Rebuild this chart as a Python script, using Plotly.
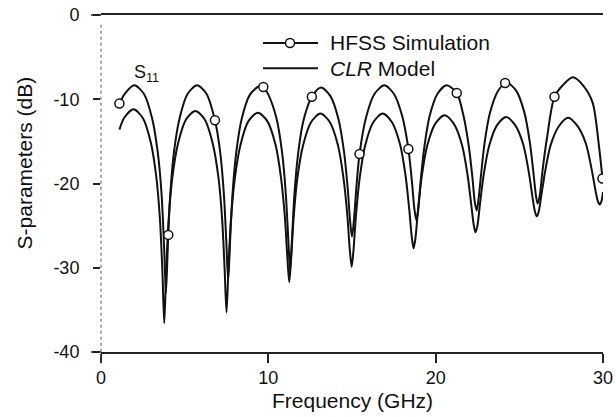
import plotly.graph_objects as go

# HFSS simulation, S11 in dB versus frequency in GHz
hfss_freq = [1.1, 1.42, 1.99, 2.56, 3.05, 3.39, 3.62, 3.77, 3.88,
             3.97, 4.02, 4.14, 4.36, 4.70, 5.18, 5.74, 6.30, 6.81, 7.12, 7.34, 7.49, 7.60,
             7.71, 7.86, 8.08, 8.41, 8.90, 9.45, 9.70, 10.00, 10.49, 10.82, 11.04, 11.19, 11.30,
             11.41, 11.56, 11.78, 12.11, 12.60, 13.15, 13.70, 14.19, 14.52, 14.74, 14.89, 15.00,
             15.12, 15.27, 15.45, 15.85, 16.35, 16.93, 17.50, 18.00, 18.37, 18.58, 18.73, 18.85,
             18.96, 19.10, 19.32, 19.64, 20.11, 20.65, 21.26, 21.66, 21.98, 22.20, 22.34, 22.45,
             22.56, 22.71, 22.92, 23.25, 23.73, 24.15, 24.28, 24.82, 25.30, 25.63, 25.85, 26.00, 26.10,
             26.23, 26.39, 26.65, 27.10, 27.57, 28.20, 28.83, 29.38, 29.75, 29.97, 30.0]
hfss_db = [-10.5, -9.35, -8.35, -9.35, -12.23, -16.28, -21.25, -27.45, -33.0,
           -28.75, -26.1, -21.25, -16.28, -12.23, -9.35, -8.35, -9.35, -12.5, -16.24, -21.15, -26.95, -31.5,
           -27.05, -21.25, -16.34, -12.32, -9.45, -8.45, -8.55, -9.45, -12.29, -16.29, -21.11, -26.55, -30.3,
           -26.7, -21.26, -16.44, -12.44, -9.7, -8.6, -9.6, -12.34, -16.19, -20.5, -24.5, -26.3,
           -24.25, -20.25, -16.5, -12.09, -9.35, -8.35, -9.35, -12.0, -15.9, -19.75, -23.05, -24.4,
           -23.05, -19.75, -15.74, -12.0, -9.35, -8.35, -9.25, -11.93, -15.58, -19.35, -22.25, -23.2,
           -21.9, -19.0, -15.23, -11.58, -9.0, -8.07, -8.0, -9.0, -11.56, -15.16, -18.85, -21.55, -22.4,
           -21.3, -18.4, -14.63, -9.7, -8.4, -7.4, -8.4, -10.4, -15.4, -19.4, -19.9]

# frequencies carrying the open-circle symbols on the HFSS curve
hfss_marker_freq = [1.1, 4.02, 6.81, 9.70, 12.60, 15.45, 18.37, 21.26, 24.15, 27.10, 29.97]
hfss_marker_db = [-10.5, -26.1, -12.5, -8.55, -9.7, -16.5, -15.9, -9.25, -8.07, -9.7, -19.4]

# CLR circuit model, S11 in dB versus frequency in GHz
clr_freq = [1.1, 1.39, 1.94, 2.49, 2.97, 3.30, 3.52, 3.67, 3.78,
            3.89, 4.04, 4.26, 4.60, 5.08, 5.64, 6.20, 6.68, 7.02, 7.24, 7.39, 7.50,
            7.61, 7.76, 7.99, 8.33, 8.81, 9.375, 9.94, 10.43, 10.76, 10.99, 11.14, 11.25,
            11.36, 11.51, 11.73, 12.07, 12.56, 13.115, 13.67, 14.16, 14.49, 14.72, 14.87, 14.98,
            15.09, 15.24, 15.46, 15.79, 16.28, 16.83, 17.38, 17.87, 18.20, 18.42, 18.57, 18.68,
            18.79, 18.94, 19.16, 19.49, 19.98, 20.53, 21.08, 21.57, 21.90, 22.12, 22.27, 22.38,
            22.49, 22.64, 22.86, 23.19, 23.66, 24.21, 24.76, 25.23, 25.56, 25.78, 25.93, 26.04,
            26.15, 26.30, 26.53, 26.87, 27.36, 27.92, 28.48, 28.97, 29.31, 29.54, 29.69, 29.80, 29.91, 30.0]
clr_db = [-13.6, -12.2, -11.2, -12.2, -15.08, -19.14, -24.16, -30.48, -36.6,
          -30.68, -24.36, -19.34, -15.28, -12.4, -11.4, -12.4, -15.27, -19.31, -24.26, -30.25, -35.3,
          -30.45, -24.46, -19.51, -15.47, -12.6, -11.6, -12.6, -15.41, -19.36, -24.01, -28.87, -31.7,
          -28.97, -24.11, -19.46, -15.51, -12.7, -11.7, -12.7, -15.45, -19.32, -23.73, -27.91, -29.9,
          -27.91, -23.73, -19.32, -15.45, -12.7, -11.7, -12.7, -15.35, -19.07, -23.05, -26.32, -27.7,
          -26.52, -23.25, -19.27, -15.55, -12.9, -11.9, -12.9, -15.39, -18.9, -22.39, -24.86, -25.8,
          -25.06, -22.59, -19.1, -15.59, -13.1, -12.1, -13.1, -15.35, -18.59, -21.52, -23.31, -23.9,
          -23.41, -21.62, -18.69, -15.45, -13.2, -12.2, -13.2, -15.22, -18.2, -20.71, -22.1, -22.5, -22.1, -21.0]

x_ticks = [0, 10, 20, 30]
x_tick_text = ["0", "10", "20", "30"]
y_ticks = [-40, -30, -20, -10, 0]
y_tick_text = ["-40", "-30", "-20", "-10", "0"]

INK = "#111111"
FRAME = "#222222"
FONT = "Liberation Sans"

fig = go.Figure()
fig.add_trace(go.Scatter(x=clr_freq, y=clr_db, mode="lines", name="CLR Model",
                         line=dict(color=INK, width=2, shape="spline", smoothing=0.8),
                         showlegend=False))
fig.add_trace(go.Scatter(x=hfss_freq, y=hfss_db, mode="lines", name="HFSS Simulation",
                         line=dict(color=INK, width=2, shape="spline", smoothing=0.8),
                         showlegend=False))
fig.add_trace(go.Scatter(x=hfss_marker_freq, y=hfss_marker_db, mode="markers",
                         marker=dict(symbol="circle", size=9, color="white",
                                     line=dict(color=INK, width=1.5)),
                         showlegend=False))

shapes = [
    # top and bottom rules run slightly past the dotted left edge
    dict(type="line", xref="paper", yref="paper", x0=-0.02, x1=0.0, y0=1, y1=1,
         line=dict(color=FRAME, width=1.5)),
    dict(type="line", xref="paper", yref="paper", x0=-0.02, x1=0.0, y0=0, y1=0,
         line=dict(color=FRAME, width=1.5)),
    # dotted left edge
    dict(type="line", xref="paper", yref="paper", x0=0, x1=0, y0=-0.035, y1=0.98,
         line=dict(color="#555", width=1, dash="dot")),
]

# hand-drawn legend
row_y = [0.917, 0.842]
line_x0, line_x1, mark_x, text_x = 0.3227, 0.4323, 0.3765, 0.4522
for ry in row_y:
    shapes.append(dict(type="line", xref="paper", yref="paper", x0=line_x0, x1=line_x1,
                       y0=ry, y1=ry, line=dict(color=INK, width=2)))
shapes.append(dict(type="circle", xref="paper", yref="paper", xsizemode="pixel", ysizemode="pixel",
                   xanchor=mark_x, yanchor=row_y[0], x0=-4.5, x1=4.5, y0=-4.5, y1=4.5,
                   fillcolor="white", line=dict(color=INK, width=1.5)))

annotations = [
    dict(xref="paper", yref="paper", x=text_x, y=row_y[0], text="HFSS Simulation",
         xanchor="left", yanchor="middle", showarrow=False,
         font=dict(family=FONT, size=21, color=INK)),
    dict(xref="paper", yref="paper", x=text_x, y=row_y[1], text="<i>CLR</i> Model",
         xanchor="left", yanchor="middle", showarrow=False,
         font=dict(family=FONT, size=21, color=INK)),
    dict(xref="x", yref="y", x=2.7, y=-6.9, text="S<sub>11</sub>",
         xanchor="center", yanchor="middle", showarrow=False,
         font=dict(family=FONT, size=18, color=INK)),
    dict(xref="paper", yref="paper", x=-0.153, y=0.56, text="S-parameters (dB)",
         textangle=-90, xanchor="center", yanchor="middle", showarrow=False,
         font=dict(family=FONT, size=21, color=INK)),
    dict(xref="paper", yref="paper", x=0.5, y=-0.103, text="Frequency (GHz)",
         xanchor="center", yanchor="top", showarrow=False,
         font=dict(family=FONT, size=21, color=INK)),
]

fig.update_layout(
    width=616, height=417,
    margin=dict(l=101, r=13, t=15, b=65),
    paper_bgcolor="white", plot_bgcolor="white",
    shapes=shapes, annotations=annotations,
    xaxis=dict(range=[0, 30], tickvals=x_ticks, ticktext=x_tick_text, ticks="outside",
               ticklen=9, tickwidth=1.5, tickcolor=FRAME, showgrid=False, zeroline=False,
               showline=True, mirror=True, linecolor=FRAME, linewidth=1.5, automargin=False,
               tickfont=dict(family=FONT, size=18, color=INK)),
    yaxis=dict(range=[-40, 0], tickvals=y_ticks, ticktext=y_tick_text, ticks="outside",
               ticklen=7, tickwidth=1.5, tickcolor=FRAME, showgrid=False, zeroline=False,
               showline=False, automargin=False, ticklabelstandoff=10,
               tickfont=dict(family=FONT, size=18, color=INK)),
    # right-hand frame edge
    yaxis2=dict(range=[-40, 0], overlaying="y", side="right", showline=True,
                linecolor=FRAME, linewidth=1.5, showticklabels=False, ticks="",
                showgrid=False, zeroline=False, automargin=False),
)

fig.write_html("out.html")
